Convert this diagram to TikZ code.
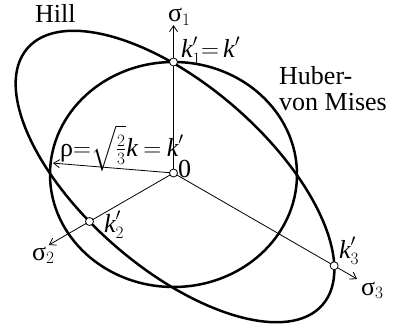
\documentclass[tikz,border=0pt]{standalone}
\usepackage{fontspec}
\setmainfont{Liberation Serif}
\usepackage{amsmath}
\usetikzlibrary{arrows.meta}
\begin{document}
\begin{tikzpicture}[x=1pt,y=1pt,
  curve/.style={line width=2.5pt},
  axis/.style={line width=0.8pt,-{Straight Barb[length=6pt,width=8pt]}},
  pt/.style={circle,draw,fill=white,line width=0.8pt,inner sep=0pt,minimum size=8pt},
  lbl/.style={inner sep=0pt,anchor=base west,font=\fontsize{26}{26}\selectfont}]
\useasboundingbox (0,0) rectangle (393,327);
% coordinates
\coordinate (O) at (173.5,154);
\coordinate (s1) at (173.5,302);
\coordinate (s2) at ([shift={(210:144)}]O);
\coordinate (s3) at ([shift={(-30:212)}]O);
\coordinate (rho) at ([shift={(175.3:121)}]O);
\coordinate (k1c) at (173.5,265);
\coordinate (k2c) at ([shift={(210:97)}]O);
\coordinate (k3c) at ([shift={(-30:185.5)}]O);
\coordinate (vmc) at (173.5,152.5);
\coordinate (hc) at (175,150.5);
% axes
\draw[axis] (O) -- (s1);
\draw[axis] (O) -- (s2);
\draw[axis] (O) -- (s3);
\draw[axis] (O) -- (rho);
% yield curves
\draw[curve] (vmc) ellipse [x radius=123.5, y radius=112.5];
\draw[curve, rotate around={-41:(hc)}] (hc) ellipse [x radius=195.5, y radius=91.6];
% points
\node[pt] (o) at (O) {};
\node[pt] (k1) at (k1c) {};
\node[pt] (k2) at (k2c) {};
\node[pt] (k3) at (k3c) {};
% labels
\node[lbl] (hill) at (35,304) {Hill};
\node[lbl] (hub) [anchor=north west, align=left] at (279,261) {Huber-\\von Mises};
\node[lbl] (s1l) at (168,305) {σ$_1$};
\node[lbl] (s2l) at (32,67) {σ$_2$};
\node[lbl] (s3l) at (361,32) {σ$_3$};
\node[lbl] (zero) at (178,150) {0};
\node[lbl] (k1l) at (181,269) {$\textit{k}'_{1}{=}\,\textit{k}'$};
\node[lbl] (k2l) at (104,95) {$\textit{k}'_{2}$};
\node[lbl] (k3l) at (339,69) {$\textit{k}'_{3}$};
\node[lbl] (rhol) at (60,171) {ρ${=}\sqrt{\tfrac{2}{3}}\textit{k}\mskip4mu{=}\mskip4mu\textit{k}'$};
\end{tikzpicture}
\end{document}
